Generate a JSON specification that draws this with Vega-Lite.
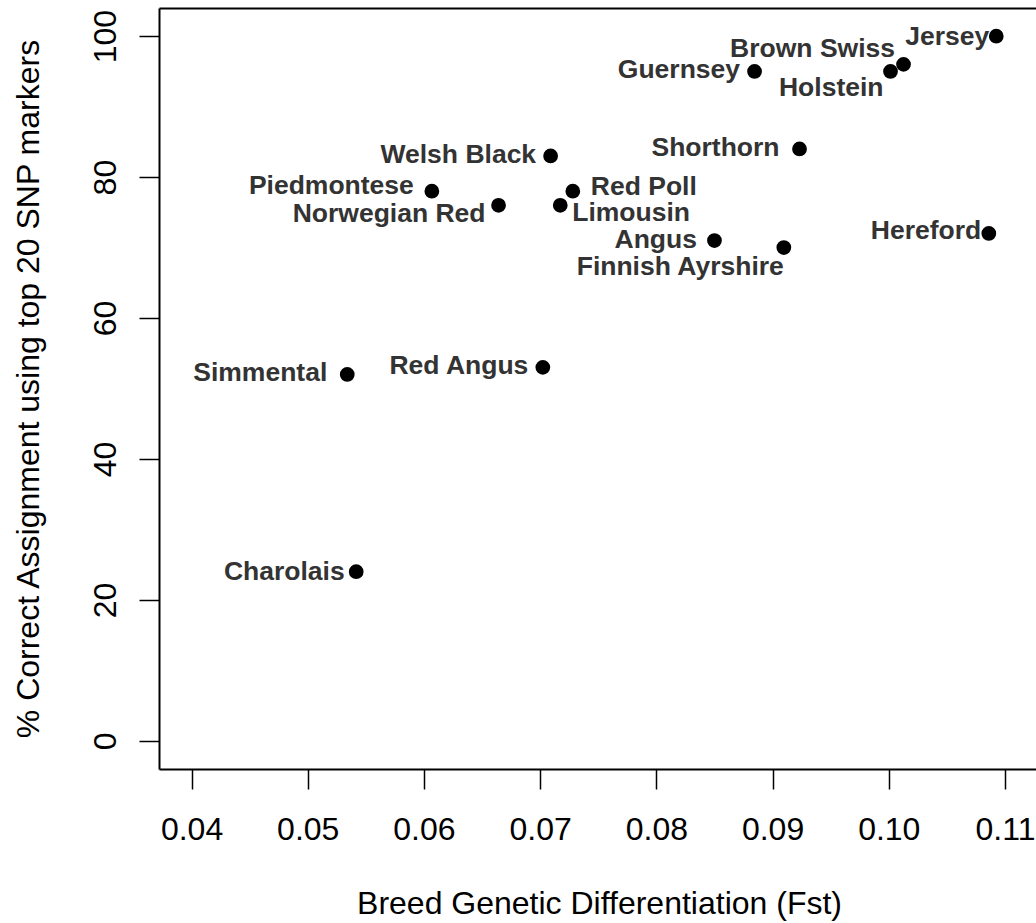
{
  "$schema": "https://vega.github.io/schema/vega-lite/v6.json",
  "width": 877,
  "height": 761,
  "autosize": {"type": "none"},
  "padding": {"left": 159, "top": 8, "right": 0, "bottom": 154},
  "background": "white",
  "config": {
    "view": {"stroke": null},
    "text": {"font": "Liberation Sans", "fontSize": 26.5, "fontWeight": "bold", "color": "#333333"},
    "axis": {"grid": false, "domainColor": "black", "domainWidth": 2, "tickColor": "black", "tickWidth": 1.5, "labelColor": "black", "titleColor": "black", "labelFont": "Liberation Sans", "titleFont": "Liberation Sans", "titleFontWeight": "normal"}
  },
  "data": {
    "values": [
      {"breed": "Jersey", "fst": 0.10925, "pct": 100},
      {"breed": "Brown Swiss", "fst": 0.10127, "pct": 96},
      {"breed": "Holstein", "fst": 0.10015, "pct": 95},
      {"breed": "Guernsey", "fst": 0.08845, "pct": 95},
      {"breed": "Shorthorn", "fst": 0.09232, "pct": 84},
      {"breed": "Hereford", "fst": 0.10861, "pct": 72},
      {"breed": "Welsh Black", "fst": 0.0709, "pct": 83},
      {"breed": "Piedmontese", "fst": 0.06068, "pct": 78},
      {"breed": "Norwegian Red", "fst": 0.06642, "pct": 76},
      {"breed": "Red Poll", "fst": 0.07281, "pct": 78},
      {"breed": "Limousin", "fst": 0.07173, "pct": 76},
      {"breed": "Angus", "fst": 0.085, "pct": 71},
      {"breed": "Finnish Ayrshire", "fst": 0.09097, "pct": 70},
      {"breed": "Simmental", "fst": 0.0534, "pct": 52},
      {"breed": "Red Angus", "fst": 0.07023, "pct": 53},
      {"breed": "Charolais", "fst": 0.05417, "pct": 24}
    ]
  },
  "layer": [
    {
      "mark": {"type": "circle", "size": 218, "color": "black", "opacity": 1},
      "encoding": {
        "x": {
          "field": "fst", "type": "quantitative",
          "scale": {"domain": [0.0372, 0.11267], "nice": false, "zero": false},
          "axis": {
            "orient": "bottom", "values": [0.04, 0.05, 0.06, 0.07, 0.08, 0.09, 0.1, 0.11], "format": ".2f",
            "tickSize": 20, "labelFontSize": 32, "labelPadding": 50, "labelBaseline": "alphabetic",
            "labelFlush": false, "labelOverlap": false,
            "title": "Breed Genetic Differentiation (Fst)", "titleFontSize": 32,
            "titleX": 440, "titleY": 144, "titleBaseline": "alphabetic", "titleAlign": "center"
          }
        },
        "y": {
          "field": "pct", "type": "quantitative",
          "scale": {"domain": [-4, 104], "nice": false, "zero": false},
          "axis": {
            "orient": "left", "values": [0, 20, 40, 60, 80, 100],
            "tickSize": 20, "labelFontSize": 32, "labelPadding": 24, "labelAngle": -90,
            "labelAlign": "center", "labelBaseline": "alphabetic", "labelOverlap": false, "labelFlush": false,
            "title": "% Correct Assignment using top 20 SNP markers", "titleFontSize": 32,
            "titleAngle": 270, "titleX": -121, "titleY": 380.5, "titleBaseline": "alphabetic", "titleAlign": "center"
          }
        }
      }
    },
    {
      "encoding": {
        "x": {
          "field": "fst", "type": "quantitative",
          "scale": {"domain": [0.0372, 0.11267], "nice": false, "zero": false},
          "axis": {"orient": "top", "ticks": false, "labels": false, "title": null, "domain": true}
        },
        "y": {
          "field": "pct", "type": "quantitative",
          "scale": {"domain": [-4, 104], "nice": false, "zero": false},
          "axis": null
        },
        "text": {"field": "breed"}
      },
      "layer": [
        {"transform": [{"filter": {"field": "breed", "oneOf": ["Jersey"]}}], "mark": {"type": "text", "align": "right", "baseline": "alphabetic", "dx": -7, "dy": 9}},
        {"transform": [{"filter": {"field": "breed", "oneOf": ["Hereford"]}}], "mark": {"type": "text", "align": "right", "baseline": "alphabetic", "dx": -7.5, "dy": 6}},
        {"transform": [{"filter": {"field": "breed", "oneOf": ["Guernsey", "Welsh Black", "Red Angus"]}}], "mark": {"type": "text", "align": "right", "baseline": "alphabetic", "dx": -14.5, "dy": 7}},
        {"transform": [{"filter": {"field": "breed", "oneOf": ["Charolais"]}}], "mark": {"type": "text", "align": "right", "baseline": "alphabetic", "dx": -11.5, "dy": 8.5}},
        {"transform": [{"filter": {"field": "breed", "oneOf": ["Shorthorn", "Simmental"]}}], "mark": {"type": "text", "align": "right", "baseline": "alphabetic", "dx": -20, "dy": 7}},
        {"transform": [{"filter": {"field": "breed", "oneOf": ["Angus"]}}], "mark": {"type": "text", "align": "right", "baseline": "alphabetic", "dx": -17.5, "dy": 7.5}},
        {"transform": [{"filter": {"field": "breed", "oneOf": ["Piedmontese"]}}], "mark": {"type": "text", "align": "right", "baseline": "alphabetic", "dx": -18, "dy": 3}},
        {"transform": [{"filter": {"field": "breed", "oneOf": ["Brown Swiss"]}}], "mark": {"type": "text", "align": "right", "baseline": "alphabetic", "dx": -8.5, "dy": -7.5}},
        {"transform": [{"filter": {"field": "breed", "oneOf": ["Holstein"]}}], "mark": {"type": "text", "align": "right", "baseline": "alphabetic", "dx": -7, "dy": 24.5}},
        {"transform": [{"filter": {"field": "breed", "oneOf": ["Norwegian Red"]}}], "mark": {"type": "text", "align": "right", "baseline": "alphabetic", "dx": -13, "dy": 16.5}},
        {"transform": [{"filter": {"field": "breed", "oneOf": ["Finnish Ayrshire"]}}], "mark": {"type": "text", "align": "right", "baseline": "alphabetic", "dx": 0, "dy": 27}},
        {"transform": [{"filter": {"field": "breed", "oneOf": ["Red Poll"]}}], "mark": {"type": "text", "align": "left", "baseline": "alphabetic", "dx": 18, "dy": 3.5}},
        {"transform": [{"filter": {"field": "breed", "oneOf": ["Limousin"]}}], "mark": {"type": "text", "align": "left", "baseline": "alphabetic", "dx": 12, "dy": 16}}
      ]
    }
  ],
  "resolve": {"axis": {"x": "independent", "y": "independent"}}
}
